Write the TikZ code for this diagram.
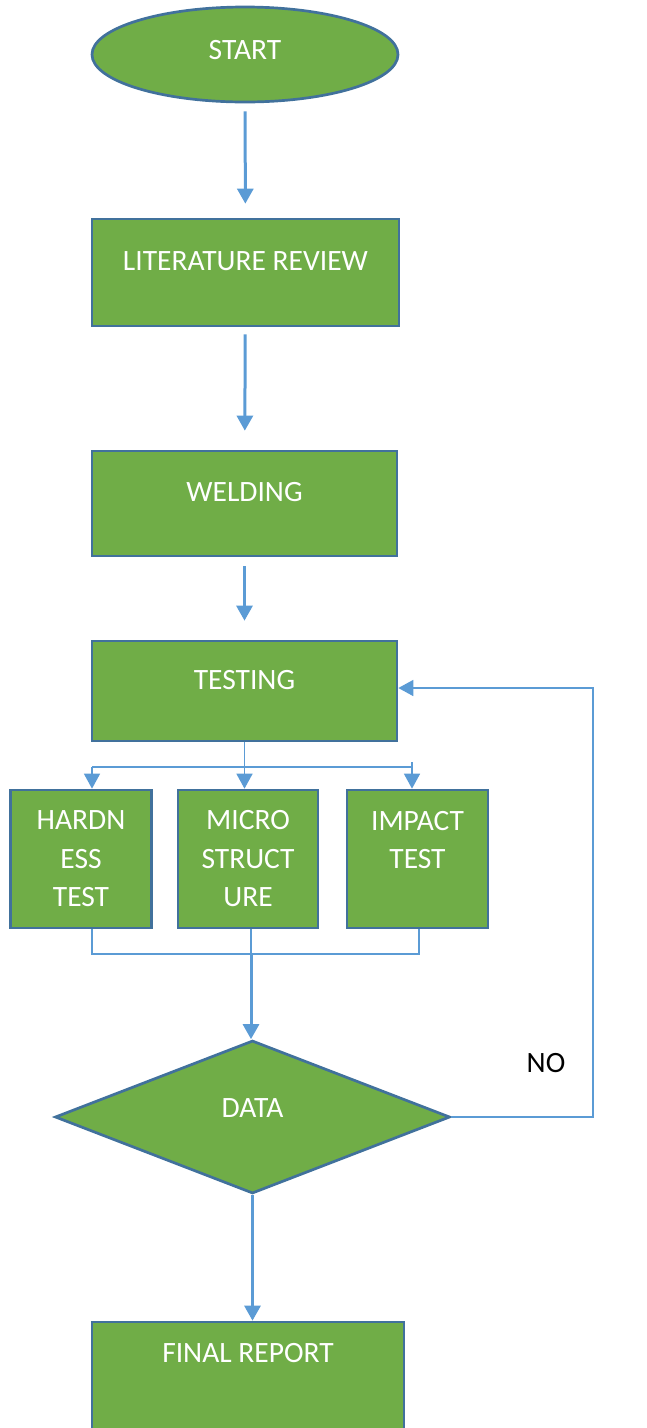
\documentclass[tikz,border=0pt]{standalone}
\usepackage{fontspec}
\setmainfont{Carlito}
\usetikzlibrary{positioning,shapes.geometric,arrows.meta}
\definecolor{boxgreen}{HTML}{70AD47}
\definecolor{boxedge}{HTML}{41719C}
\definecolor{flowblue}{HTML}{5B9BD5}
\begin{document}
\begin{tikzpicture}[x=1pt,y=-1pt,>={Triangle[width=16pt,length=15pt]},
  box/.style={draw=boxedge,line width=2.7pt,fill=boxgreen,text=white,inner sep=0pt,
    font=\fontsize{29.5}{38.5}\selectfont},
  onerow/.style={text height=18pt,text depth=22pt},
  small/.style={box,align=center,minimum width=141pt,minimum height=138pt},
  flow/.style={draw=flowblue,line width=3pt,->},
  link/.style={draw=flowblue,line width=1.6pt}]
\useasboundingbox (0,0) rectangle (647,1428);
% main column
\node[box,ellipse,minimum width=306pt,minimum height=95pt,text height=18pt,text depth=8pt](start) at (245,54.5){START};
\node[box,onerow,minimum width=307pt,minimum height=107pt](lit) at (245.5,272.5){LITERATURE REVIEW};
\node[box,onerow,minimum width=305pt,minimum height=105pt](weld) at (244.5,503.5){WELDING};
\node[box,onerow,minimum width=305pt,minimum height=100pt](test) at (244.5,691){TESTING};
% the three tests
\node[small](hard) at (81,859){HARDN\\ESS\\TEST};
\node[small,minimum width=140pt](micro) at (248,859){MICRO\\STRUCT\\URE};
\node[small](impact) at (417.5,859){IMPACT\\TEST\\\phantom{T}};
\node[box,diamond,minimum width=395pt,minimum height=153pt,text height=18pt,text depth=18pt](data) at (252.5,1117){DATA};
\node[box,minimum width=312pt,minimum height=118pt,text height=18pt,text depth=56pt](final) at (248,1381){FINAL REPORT};
\node[font=\fontsize{29.5}{38.5}\selectfont](no) at (546,1063){NO};

\draw[flow,shorten <=8pt,shorten >=14pt](start)--(lit);
\draw[flow,shorten <=7pt,shorten >=19pt](lit)--(weld);
\draw[flow,shorten <=9pt,shorten >=19pt](weld)--(test);
% split to the tests
\coordinate (sl) at (92,767);
\coordinate (sr) at (412,767);
\draw[link](sl)--(sr);
\draw[link,->](sl)--(sl|-hard.north);
\draw[link,->](test.south)--(test.south|-micro.north);
\draw[link,->]([yshift=5pt]sr)--(sr|-impact.north);
% join
\coordinate (jl) at (92,954);
\coordinate (jm) at (251,954);
\coordinate (jr) at (419,954);
\draw[link](jl|-hard.south)--(jl)--(jr)--(jr|-impact.south);
\draw[link](jm|-micro.south)--(jm);
\draw[flow](jm)--(jm|-data.north);
\draw[flow](data.south)--(data.south|-final.north);
% back to testing
\coordinate (back) at (593,688);
\draw[link,->](data.east)-|(back)--(back-|test.east);

\end{tikzpicture}
\end{document}
